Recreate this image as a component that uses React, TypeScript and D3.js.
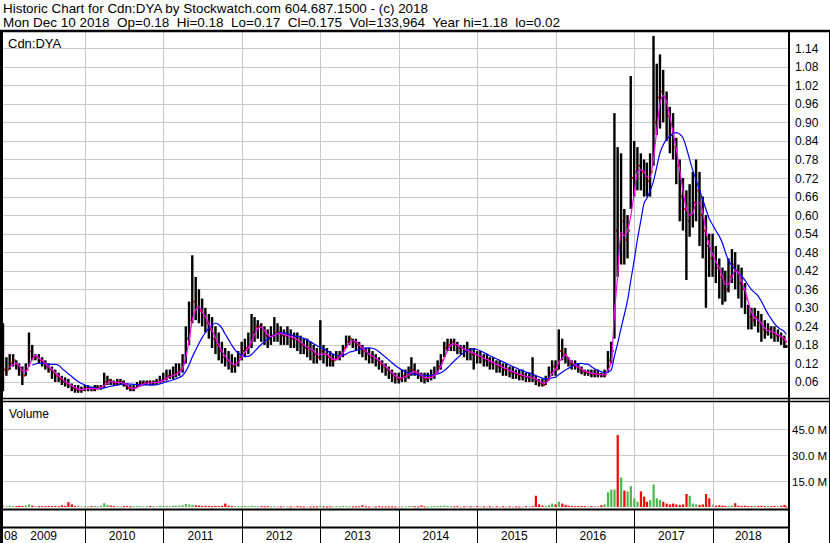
import React from "react";
import * as d3 from "d3";

// half-month samples: Dec 16 2008, then the 1st and 16th of each month, last one Dec 10 2018
const closes = [
  0.10,
  0.10, 0.12, 0.13, 0.11, 0.10, 0.08, 0.10, 0.16, 0.14, 0.14, 0.13, 0.12, 0.11, 0.10, 0.09, 0.08, 0.07, 0.06, 0.055, 0.05, 0.04, 0.035, 0.035, 0.035,
  0.04, 0.04, 0.035, 0.04, 0.04, 0.045, 0.06, 0.065, 0.06, 0.055, 0.06, 0.06, 0.05, 0.04, 0.035, 0.04, 0.05, 0.055, 0.055, 0.06, 0.055, 0.06, 0.06, 0.065,
  0.07, 0.08, 0.08, 0.085, 0.09, 0.10, 0.12, 0.20, 0.26, 0.32, 0.30, 0.29, 0.27, 0.25, 0.23, 0.20, 0.18, 0.16, 0.14, 0.13, 0.12, 0.11, 0.12, 0.14,
  0.16, 0.17, 0.18, 0.22, 0.24, 0.24, 0.23, 0.21, 0.20, 0.21, 0.22, 0.22, 0.21, 0.21, 0.21, 0.20, 0.20, 0.19, 0.18, 0.17, 0.17, 0.16, 0.15, 0.14,
  0.16, 0.15, 0.14, 0.13, 0.13, 0.14, 0.15, 0.17, 0.19, 0.20, 0.19, 0.18, 0.17, 0.16, 0.15, 0.14, 0.14, 0.13, 0.12, 0.11, 0.10, 0.09, 0.08, 0.07,
  0.07, 0.08, 0.08, 0.09, 0.10, 0.09, 0.08, 0.075, 0.07, 0.075, 0.08, 0.09, 0.11, 0.13, 0.17, 0.18, 0.19, 0.18, 0.17, 0.17, 0.16, 0.16, 0.15, 0.15,
  0.14, 0.14, 0.13, 0.13, 0.12, 0.12, 0.11, 0.11, 0.10, 0.10, 0.09, 0.09, 0.085, 0.08, 0.08, 0.075, 0.075, 0.07, 0.065, 0.055, 0.05, 0.065, 0.09, 0.11,
  0.10, 0.16, 0.15, 0.14, 0.12, 0.115, 0.11, 0.10, 0.095, 0.09, 0.09, 0.085, 0.085, 0.085, 0.08, 0.085, 0.13, 0.16, 0.55, 0.50, 0.58, 0.52, 0.55, 0.72,
  0.74, 0.76, 0.74, 0.72, 0.71, 0.74, 0.90, 0.98, 1.00, 0.98, 0.92, 0.86, 0.82, 0.76, 0.66, 0.62, 0.58, 0.60, 0.64, 0.68, 0.60, 0.55, 0.50, 0.46,
  0.46, 0.43, 0.40, 0.37, 0.36, 0.40, 0.44, 0.42, 0.38, 0.36, 0.33, 0.27, 0.26, 0.27, 0.25, 0.23, 0.22, 0.23, 0.22, 0.21, 0.21, 0.20, 0.19, 0.175,
];

const highs = [
  0.25,
  0.14, 0.15, 0.15, 0.13, 0.12, 0.11, 0.12, 0.22, 0.18, 0.15, 0.15, 0.14, 0.13, 0.12, 0.11, 0.10, 0.09, 0.08, 0.075, 0.07, 0.055, 0.05, 0.05, 0.045,
  0.05, 0.05, 0.045, 0.05, 0.05, 0.05, 0.09, 0.08, 0.07, 0.065, 0.07, 0.07, 0.065, 0.055, 0.05, 0.05, 0.06, 0.065, 0.065, 0.065, 0.065, 0.065, 0.07, 0.08,
  0.09, 0.10, 0.10, 0.11, 0.12, 0.12, 0.15, 0.24, 0.32, 0.47, 0.40, 0.36, 0.33, 0.30, 0.28, 0.27, 0.24, 0.22, 0.19, 0.17, 0.16, 0.15, 0.14, 0.16,
  0.19, 0.20, 0.22, 0.28, 0.27, 0.26, 0.25, 0.24, 0.23, 0.24, 0.27, 0.25, 0.24, 0.23, 0.24, 0.23, 0.22, 0.22, 0.21, 0.20, 0.20, 0.19, 0.18, 0.17,
  0.26, 0.18, 0.17, 0.16, 0.15, 0.16, 0.16, 0.18, 0.21, 0.21, 0.20, 0.20, 0.19, 0.18, 0.17, 0.17, 0.16, 0.15, 0.14, 0.13, 0.12, 0.11, 0.10, 0.09,
  0.09, 0.10, 0.10, 0.11, 0.14, 0.12, 0.10, 0.09, 0.09, 0.09, 0.10, 0.11, 0.13, 0.15, 0.19, 0.20, 0.20, 0.20, 0.19, 0.18, 0.18, 0.19, 0.17, 0.17,
  0.16, 0.16, 0.15, 0.15, 0.14, 0.14, 0.13, 0.13, 0.12, 0.12, 0.11, 0.11, 0.10, 0.10, 0.10, 0.09, 0.09, 0.14, 0.08, 0.07, 0.07, 0.08, 0.11, 0.13,
  0.13, 0.23, 0.20, 0.17, 0.14, 0.13, 0.13, 0.12, 0.11, 0.10, 0.10, 0.10, 0.10, 0.10, 0.09, 0.10, 0.16, 0.19, 0.93, 0.82, 0.80, 0.62, 0.60, 1.05,
  0.84, 0.82, 0.80, 0.78, 0.77, 0.80, 1.18, 1.09, 1.12, 1.07, 1.00, 0.95, 0.93, 0.85, 0.78, 0.72, 0.68, 0.70, 0.74, 0.78, 0.74, 0.66, 0.60, 0.54,
  0.54, 0.50, 0.46, 0.43, 0.42, 0.46, 0.49, 0.48, 0.44, 0.43, 0.38, 0.31, 0.30, 0.30, 0.29, 0.28, 0.26, 0.25, 0.24, 0.24, 0.23, 0.22, 0.21, 0.18,
];

const lows = [
  0.03,
  0.08, 0.10, 0.11, 0.10, 0.08, 0.05, 0.08, 0.11, 0.13, 0.13, 0.12, 0.11, 0.10, 0.09, 0.07, 0.06, 0.06, 0.05, 0.045, 0.04, 0.03, 0.025, 0.025, 0.025,
  0.03, 0.03, 0.03, 0.03, 0.035, 0.035, 0.04, 0.05, 0.05, 0.05, 0.05, 0.05, 0.045, 0.035, 0.03, 0.03, 0.04, 0.045, 0.05, 0.05, 0.05, 0.05, 0.05, 0.055,
  0.06, 0.065, 0.07, 0.07, 0.075, 0.08, 0.09, 0.12, 0.18, 0.25, 0.26, 0.25, 0.24, 0.22, 0.20, 0.17, 0.15, 0.13, 0.12, 0.11, 0.10, 0.09, 0.09, 0.11,
  0.13, 0.14, 0.15, 0.17, 0.19, 0.20, 0.19, 0.18, 0.17, 0.18, 0.19, 0.19, 0.18, 0.18, 0.18, 0.17, 0.17, 0.16, 0.15, 0.15, 0.14, 0.13, 0.12, 0.12,
  0.13, 0.12, 0.11, 0.11, 0.11, 0.13, 0.13, 0.14, 0.17, 0.18, 0.17, 0.16, 0.15, 0.14, 0.13, 0.12, 0.12, 0.11, 0.10, 0.09, 0.08, 0.07, 0.06, 0.055,
  0.055, 0.06, 0.06, 0.07, 0.08, 0.08, 0.07, 0.06, 0.055, 0.06, 0.065, 0.07, 0.09, 0.10, 0.14, 0.16, 0.16, 0.16, 0.15, 0.15, 0.14, 0.13, 0.13, 0.10,
  0.12, 0.12, 0.11, 0.11, 0.10, 0.10, 0.09, 0.09, 0.08, 0.08, 0.075, 0.07, 0.07, 0.065, 0.065, 0.06, 0.06, 0.06, 0.05, 0.045, 0.045, 0.05, 0.065, 0.08,
  0.08, 0.10, 0.13, 0.12, 0.11, 0.10, 0.10, 0.09, 0.085, 0.08, 0.08, 0.075, 0.075, 0.075, 0.075, 0.075, 0.09, 0.12, 0.20, 0.40, 0.44, 0.44, 0.46, 0.62,
  0.66, 0.68, 0.68, 0.66, 0.66, 0.66, 0.76, 0.86, 0.88, 0.90, 0.84, 0.80, 0.78, 0.70, 0.58, 0.55, 0.39, 0.53, 0.56, 0.58, 0.50, 0.46, 0.30, 0.40,
  0.40, 0.38, 0.33, 0.31, 0.32, 0.35, 0.38, 0.36, 0.33, 0.30, 0.28, 0.23, 0.23, 0.24, 0.22, 0.19, 0.20, 0.21, 0.20, 0.19, 0.19, 0.18, 0.17, 0.17,
];

// biggest daily volume in each half month, millions of shares
const volumes = [
  0.8,
  0.6, 0.8, 0.5, 0.5, 0.7, 0.6, 0.9, 1.5, 0.8, 0.6, 0.5, 0.5, 0.5, 0.6, 0.5, 0.6, 0.5, 1.0, 0.7, 2.8, 1.5, 0.6, 0.8, 0.5,
  0.5, 0.4, 0.5, 0.6, 0.5, 0.8, 2.2, 1.2, 0.8, 0.5, 0.6, 0.4, 0.5, 0.5, 0.4, 0.5, 0.6, 0.5, 0.4, 0.5, 0.6, 0.5, 0.5, 0.8,
  0.6, 0.7, 0.6, 0.8, 0.7, 0.9, 1.0, 1.8, 1.4, 1.2, 1.0, 0.8, 0.6, 0.7, 0.6, 0.5, 0.6, 0.6, 0.7, 2.0, 0.8, 0.5, 0.6, 0.5,
  0.5, 0.6, 0.5, 0.7, 0.6, 0.5, 0.5, 0.4, 0.5, 0.4, 0.5, 0.4, 0.4, 0.5, 0.4, 0.3, 0.4, 0.5, 0.4, 0.3, 0.4, 0.3, 0.3, 0.4,
  0.6, 0.4, 0.3, 0.4, 0.3, 0.5, 0.4, 0.6, 0.5, 0.4, 0.3, 0.4, 0.4, 1.0, 0.4, 0.3, 0.4, 0.3, 0.5, 0.3, 0.3, 0.4, 0.3, 0.3,
  0.3, 0.4, 0.4, 0.5, 0.6, 0.4, 0.3, 0.9, 0.3, 0.3, 0.4, 0.5, 0.6, 0.7, 0.8, 0.6, 0.5, 0.4, 0.5, 0.3, 0.4, 0.6, 0.4, 0.5,
  0.5, 0.4, 0.4, 0.3, 0.4, 0.3, 0.4, 0.3, 0.4, 0.3, 0.4, 0.3, 0.4, 0.3, 0.4, 0.5, 0.4, 0.6, 6.5, 1.5, 0.8, 0.6, 1.2, 2.0,
  1.5, 3.0, 2.0, 1.2, 0.8, 0.6, 0.5, 0.5, 0.6, 0.5, 0.4, 0.5, 0.6, 0.6, 1.0, 1.5, 8.5, 10, 10, 41.5, 17, 9.5, 9, 12,
  5, 3, 9, 6, 3, 4, 13, 5, 4, 3, 2, 1.5, 2, 1.5, 1.2, 1.5, 7.5, 6.5, 2, 1.5, 1.2, 1.5, 7.5, 5,
  1.5, 0.8, 1.0, 0.8, 0.6, 0.7, 0.8, 2.2, 0.8, 0.6, 0.7, 0.6, 0.5, 0.8, 0.6, 0.7, 0.5, 0.6, 0.5, 0.6, 0.5, 0.7, 1.2, 0.3,
];

const priceTicks = [0.06, 0.12, 0.18, 0.24, 0.30, 0.36, 0.42, 0.48, 0.54, 0.60, 0.66, 0.72, 0.78, 0.84, 0.90, 0.96, 1.02, 1.08, 1.14];
const volumeTicks = [15, 30, 45];
const years = [2009, 2010, 2011, 2012, 2013, 2014, 2015, 2016, 2017, 2018];

const title1 = "Historic Chart for Cdn:DYA by Stockwatch.com 604.687.1500 - (c) 2018";
const title2 = "Mon Dec 10 2018  Op=0.18  Hi=0.18  Lo=0.17  Cl=0.175  Vol=133,964  Year hi=1.18  lo=0.02";

const n = Math.min(closes.length, highs.length, lows.length, volumes.length);
const dates: Date[] = [];
for (let k = 0; k < n - 1; k++) {
  dates.push(new Date(2008, 11 + Math.floor((k + 1) / 2), k % 2 === 0 ? 16 : 1));
}
dates.push(new Date(2018, 11, 10));

function sma(vals: number[], len: number) {
  const out: [number, number][] = [];
  for (let i = len - 1; i < vals.length; i++) {
    out.push([i, d3.mean(vals.slice(i - len + 1, i + 1)) as number]);
  }
  return out;
}

const W = 830;
const H = 543;
const left = 3;
const right = 788;
const font = "'Liberation Sans', Arial, sans-serif";

export default function App() {
  const x = d3
    .scaleTime()
    .domain([new Date(2008, 11, 16), new Date(2018, 11, 18)])
    .range([left, right]);
  const y = d3.scaleLinear().domain([0, 1.2]).range([400.5, 29.7]);
  const yv = d3.scaleLinear().domain([0, 60]).range([507, 403]);

  const line = d3
    .line<[number, number]>()
    .x((d) => x(dates[d[0]]))
    .y((d) => y(d[1]))
    .curve(d3.curveMonotoneX);

  const fast = sma(closes.slice(0, n), 3);
  const slow = sma(closes.slice(0, n), 10);

  const yearLines = d3.timeYear.range(new Date(2010, 0, 1), new Date(2019, 0, 1));

  const volColor = (i: number) => {
    if (i === 0 || closes[i] === closes[i - 1]) return "#a0a0a0";
    return closes[i] > closes[i - 1] ? "#4cb84c" : "#ff0000";
  };

  return (
    <svg width={W} height={H} style={{ position: "absolute", left: 0, top: 0, background: "#fff" }} fontFamily={font}>
      <defs>
        <clipPath id="main">
          <rect x={left} y={32} width={right - left} height={366} />
        </clipPath>
        <clipPath id="vol">
          <rect x={left} y={402} width={right - left} height={106} />
        </clipPath>
      </defs>
      <rect width={W} height={H} fill="#fff" />

      <text x={3} y={12.5} fontSize={13} textLength={425} lengthAdjust="spacingAndGlyphs">{title1}</text>
      <text x={3} y={26.5} fontSize={13} textLength={557} lengthAdjust="spacingAndGlyphs" style={{ whiteSpace: "pre" }}>{title2}</text>

      {/* grid: price panel */}
      {priceTicks.map((t) => (
        <line key={"pg" + t} x1={left} x2={right} y1={Math.round(y(t)) + 0.5} y2={Math.round(y(t)) + 0.5} stroke="#c8c8c8" />
      ))}
      {yearLines.map((d) => (
        <line key={"vg" + d.getFullYear()} x1={Math.round(x(d)) + 0.5} x2={Math.round(x(d)) + 0.5} y1={32} y2={508} stroke="#c8c8c8" />
      ))}
      {volumeTicks.map((t) => (
        <line key={"vt" + t} x1={left} x2={right} y1={Math.round(yv(t)) + 0.5} y2={Math.round(yv(t)) + 0.5} stroke="#c8c8c8" />
      ))}

      {/* price bars */}
      <g clipPath="url(#main)">
        {dates.map((d, i) => {
          const cx = x(d);
          return (
            <g key={"b" + i}>
              <rect x={cx - 1.2} y={y(highs[i])} width={2.4} height={Math.max(1, y(lows[i]) - y(highs[i]))} fill="#000" />
              <rect x={cx + 1.1} y={y(closes[i]) - 1} width={1.6} height={2} fill="#ff0000" />
            </g>
          );
        })}
        <path d={line(slow) || ""} fill="none" stroke="#0000ff" strokeWidth={1.2} />
        <path d={line(fast) || ""} fill="none" stroke="#ff00ff" strokeWidth={1.2} />
      </g>

      {/* volume bars */}
      <g clipPath="url(#vol)">
        {dates.map((d, i) => (
          <rect
            key={"v" + i}
            x={x(d) - 1}
            y={yv(volumes[i])}
            width={2.2}
            height={Math.max(1, yv(0) - yv(volumes[i]))}
            fill={volColor(i)}
          />
        ))}
      </g>

      <text x={8} y={48} fontSize={13}>Cdn:DYA</text>
      <text x={9} y={418} fontSize={12}>Volume</text>

      {/* right axis labels */}
      {priceTicks.map((t) => (
        <text key={"pl" + t} x={795} y={y(t) + 4.5} fontSize={12}>{t.toFixed(2)}</text>
      ))}
      {volumeTicks.map((t) => (
        <text key={"vl" + t} x={792} y={yv(t) + 4.5} fontSize={11.5}>{t.toFixed(1) + " M"}</text>
      ))}

      {/* frame */}
      <line x1={0} x2={W} y1={31} y2={31} stroke="#000" strokeWidth={2.5} />
      <line x1={0} x2={W} y1={398.5} y2={398.5} stroke="#000" strokeWidth={1.5} />
      <line x1={0} x2={W} y1={401.5} y2={401.5} stroke="#000" strokeWidth={1.5} />
      <line x1={0} x2={right} y1={509.5} y2={509.5} stroke="#000" strokeWidth={2} />
      <line x1={0} x2={right} y1={527.5} y2={527.5} stroke="#000" strokeWidth={2} />
      <line x1={1.5} x2={1.5} y1={30} y2={H} stroke="#000" strokeWidth={3} />
      <line x1={789} x2={789} y1={30} y2={H} stroke="#000" strokeWidth={2} />
      <line x1={829.5} x2={829.5} y1={30} y2={H} stroke="#000" strokeWidth={1} />

      {/* date axis */}
      {yearLines.map((d) => (
        <line key={"yt" + d.getFullYear()} x1={Math.round(x(d)) + 0.5} x2={Math.round(x(d)) + 0.5} y1={509} y2={H} stroke="#000" />
      ))}
      <text x={4} y={540} fontSize={12}>08</text>
      {years.map((yr) => {
        const a = Math.max(left, x(new Date(yr, 0, 1)));
        const b = Math.min(right, x(new Date(yr + 1, 0, 1)));
        return (
          <text key={"yl" + yr} x={(a + b) / 2 - 2} y={540} fontSize={12} textAnchor="middle">{yr}</text>
        );
      })}
    </svg>
  );
}
